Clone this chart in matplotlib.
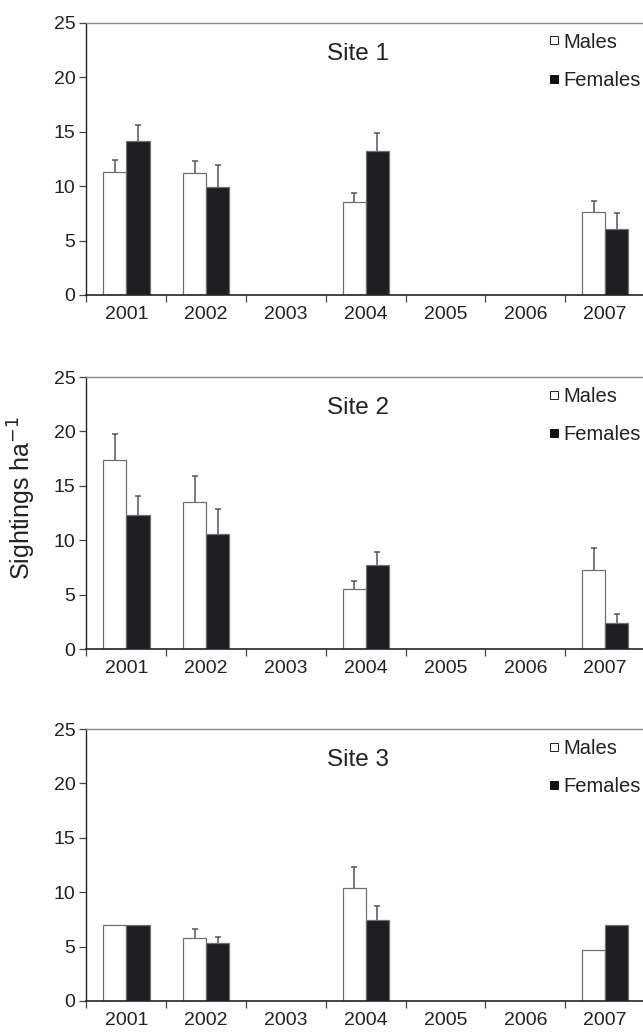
import numpy as np
import matplotlib
matplotlib.use("Agg")
from matplotlib import pyplot as plt
from matplotlib.lines import Line2D

plt.rcParams["font.family"] = ["Liberation Sans", "DejaVu Sans"]
plt.rcParams["text.color"] = "#222222"
plt.rcParams["xtick.color"] = "#222222"
plt.rcParams["ytick.color"] = "#222222"

years = ["2001", "2002", "2003", "2004", "2005", "2006", "2007"]
nan = np.nan

# mean sightings and upper error (length of whisker) for each site
site1_males = [11.3, 11.2, nan, 8.55, nan, nan, 7.63]
site1_males_err = [1.1, 1.1, nan, 0.85, nan, nan, 0.97]
site1_females = [14.15, 9.9, nan, 13.27, nan, nan, 6.1]
site1_females_err = [1.45, 2.05, nan, 1.63, nan, nan, 1.44]

site2_males = [17.4, 13.53, nan, 5.48, nan, nan, 7.26]
site2_males_err = [2.33, 2.42, nan, 0.82, nan, nan, 2.06]
site2_females = [12.35, 10.56, nan, 7.75, nan, nan, 2.39]
site2_females_err = [1.72, 2.34, nan, 1.18, nan, nan, 0.81]

site3_males = [7.0, 5.81, nan, 10.35, nan, nan, 4.66]
site3_males_err = [nan, 0.82, nan, 1.94, nan, nan, nan]
site3_females = [7.0, 5.36, nan, 7.48, nan, nan, 7.0]
site3_females_err = [nan, 0.51, nan, 1.24, nan, nan, nan]

sites = [
    ("Site 1", site1_males, site1_males_err, site1_females, site1_females_err),
    ("Site 2", site2_males, site2_males_err, site2_females, site2_females_err),
    ("Site 3", site3_males, site3_males_err, site3_females, site3_females_err),
]

male_color = "white"
female_color = "#1e1e20"
edge_color = "#707070"
err_color = "#555555"

fig = plt.figure(figsize=(6.43, 10.36), dpi=100)
panel_bottoms = [0.7153, 0.3735, 0.0338]
panel_height = 0.2625
bw = 0.29

x = np.arange(1, len(years) + 1)

for (title, m, me, f, fe), bottom in zip(sites, panel_bottoms):
    ax = fig.add_axes([0.1345, bottom, 0.8686, panel_height])
    m = np.array(m)
    f = np.array(f)
    me = np.array(me)
    fe = np.array(fe)

    ax.bar(x - bw / 2, m, bw, color=male_color, edgecolor=edge_color, linewidth=0.9, zorder=2)
    ax.bar(x + bw / 2, f, bw, color=female_color, edgecolor=edge_color, linewidth=0.9, zorder=2)

    # upward-only whiskers with a small cap
    for xs, vals, errs in [(x - bw / 2, m, me), (x + bw / 2, f, fe)]:
        ok = ~np.isnan(errs)
        ax.vlines(xs[ok], vals[ok], vals[ok] + errs[ok], color=err_color, linewidth=1.1, zorder=1)
        ax.plot(xs[ok], vals[ok] + errs[ok], linestyle="none", marker="_",
                markersize=4.5, markeredgewidth=1.1, color=err_color, zorder=1)

    ax.set_xlim(0.5, len(years) + 0.5)
    ax.set_ylim(0, 25)
    ax.set_yticks([0, 5, 10, 15, 20, 25])
    ax.set_xticks(np.arange(0.5, len(years) + 0.5, 1.0))
    ax.set_xticklabels([])
    ax.set_xticks(x, minor=True)
    ax.set_xticklabels(years, minor=True)
    ax.tick_params(axis="x", which="major", direction="out", length=5, width=0.9, color="#444444")
    ax.tick_params(axis="x", which="minor", length=0, labelsize=14, pad=8)
    ax.tick_params(axis="y", direction="out", length=5, width=0.9, color="#444444",
                   labelsize=14, pad=3)

    ax.spines["right"].set_visible(False)
    ax.spines["top"].set_color("#888888")
    ax.spines["top"].set_linewidth(1.0)
    ax.spines["left"].set_color("#222222")
    ax.spines["bottom"].set_color("#222222")
    ax.spines["left"].set_linewidth(1.0)
    ax.spines["bottom"].set_linewidth(1.2)

    ax.text(0.487, 0.885, title, transform=ax.transAxes, ha="center", va="center", fontsize=17.5)

    handles = [
        Line2D([], [], linestyle="none", marker="s", markersize=5.5, markerfacecolor="white",
               markeredgecolor="#222222", markeredgewidth=0.7, label="Males"),
        Line2D([], [], linestyle="none", marker="s", markersize=6, markerfacecolor="#111111",
               markeredgecolor="#111111", markeredgewidth=0.7, label="Females"),
    ]
    ax.legend(handles=handles, loc="upper left", bbox_to_anchor=(0.826, 0.965), frameon=False,
              fontsize=14.5, handlelength=0.6, handletextpad=0.15, labelspacing=0.95,
              borderpad=0, borderaxespad=0)

fig.text(0.034, 0.519, "Sightings ha$^{-1}$", rotation=90, ha="center", va="center", fontsize=18)

fig.savefig("out.png", dpi=100)
